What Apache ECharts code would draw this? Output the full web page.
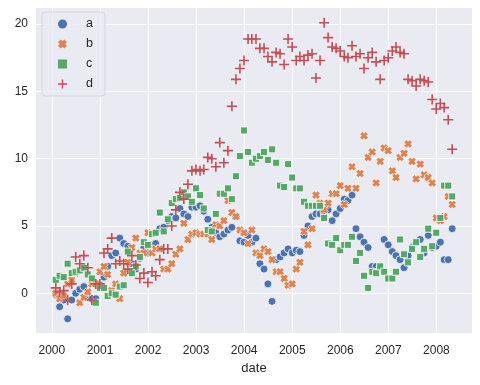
<!DOCTYPE html>
<html><head><meta charset="utf-8">
<script src="https://cdn.jsdelivr.net/npm/echarts@6/dist/echarts.min.js"></script>
<style>html,body{margin:0;padding:0;background:#fff}#c{width:480px;height:385px}</style>
</head><body><div id="c"></div>
<script>
// monthly month-end dates starting 2000-01-31, 100 periods
const startYear = 2000;
const nPeriods = 100;
const dates = Array.from({length: nPeriods}, (_, i) => new Date(startYear, i + 1, 0).getTime());

const seriesNames = ['a', 'b', 'c', 'd'];

const a = [-0.1,-1.0,-0.5,-1.9,-0.5,0.0,0.3,0.5,-0.3,-0.4,-0.4,0.6,1.2,2.0,2.8,3.0,4.1,3.7,3.5,2.2,
  1.8,2.6,3.4,3.0,3.6,3.7,4.8,4.9,5.4,5.7,5.6,6.3,5.9,5.7,6.4,6.4,6.5,6.1,5.5,4.9,
  4.5,4.2,4.4,4.7,4.9,5.7,3.9,3.8,4.3,3.8,4.1,2.2,1.8,0.7,-0.6,2.5,2.7,3.0,3.3,3.0,
  3.2,3.1,4.3,5.0,5.7,5.9,5.9,6.0,6.2,5.4,5.9,6.3,7.0,6.9,7.3,4.8,4.2,3.8,3.4,2.0,
  2.0,2.0,4.0,3.6,3.1,2.8,2.5,1.9,2.8,3.4,3.8,4.0,3.0,4.3,3.4,3.5,3.8,2.5,2.5,4.8];

const b = [0.0,-0.4,-0.2,0.7,1.0,1.5,-0.7,-0.3,0.1,0.7,0.7,1.6,2.0,1.4,0.2,0.7,-0.4,1.5,2.3,3.4,
  4.1,3.0,3.0,4.5,3.0,3.3,3.3,1.8,1.8,2.2,2.9,3.3,5.2,4.0,4.4,4.5,4.4,4.4,4.4,4.0,
  5.1,5.0,5.4,6.9,6.0,5.7,4.7,4.5,3.7,4.7,3.0,2.8,3.3,3.1,2.5,1.6,1.6,1.1,0.6,0.7,
  1.8,2.3,4.6,3.6,4.8,7.3,6.7,6.2,6.7,7.4,7.4,8.0,6.6,7.8,9.4,7.8,8.9,11.7,10.1,10.5,
  8.2,9.8,10.8,10.6,9.1,8.6,10.1,10.4,11.1,9.8,8.5,9.6,8.8,8.6,8.2,5.6,5.4,5.7,7.2,6.6];

const c = [1.0,1.3,1.2,2.2,1.5,1.6,1.7,1.9,1.4,1.1,-0.7,0.4,0.4,-0.2,0.0,-0.1,0.5,0.6,3.1,1.5,
  2.0,2.7,3.8,3.6,4.4,4.5,6.0,4.6,5.5,6.7,7.0,7.1,7.5,7.2,6.8,7.8,7.3,6.3,4.7,4.6,
  5.9,7.4,7.4,7.8,7.0,8.7,10.2,12.1,10.5,9.7,10.0,10.2,10.5,9.9,10.7,9.7,8.0,7.9,9.6,8.6,
  7.8,7.8,6.8,6.5,6.5,6.5,6.5,5.6,3.7,3.6,4.1,3.2,3.6,3.6,4.2,2.4,3.0,1.3,0.4,1.6,
  1.5,2.0,1.6,1.1,1.1,1.6,4.0,2.9,2.3,3.3,3.8,2.7,3.3,4.8,3.5,4.5,5.6,8.0,8.0,7.2];

const d = [0.4,0.1,0.2,-0.5,0.7,2.7,2.2,2.8,1.9,-0.5,0.7,0.7,3.0,3.3,4.1,2.2,2.4,2.2,1.8,2.8,
  2.1,1.1,1.5,0.8,1.6,1.3,2.5,3.3,3.3,5.0,6.2,7.5,7.0,8.1,9.1,9.2,9.1,9.2,10.1,10.0,
  9.4,11.2,9.7,10.6,13.9,15.9,16.7,17.3,18.9,18.9,18.9,18.2,18.2,17.6,17.2,17.9,17.8,17.0,18.9,18.3,
  17.3,17.6,17.3,17.7,17.8,16.0,17.3,20.1,19.0,18.3,18.2,18.0,17.6,17.5,18.4,17.6,17.8,16.7,17.5,17.9,
  17.2,15.9,17.3,17.5,18.0,18.3,17.9,17.8,15.9,15.8,15.4,15.9,15.8,15.7,14.4,13.7,14.1,13.8,12.9,10.7];

const yTicks = [0, 5, 10, 15, 20];
const xTickYears = [2000, 2001, 2002, 2003, 2004, 2005, 2006, 2007, 2008];

const values = [a, b, c, d];
const colors = ['#4C72B0', '#DD8452', '#55A868', '#C44E52'];
const xPath = 'path://M3,0 L5,2 L7,0 L10,3 L8,5 L10,7 L7,10 L5,8 L3,10 L0,7 L2,5 L0,3 Z';
const squarePath = 'path://M0,0 L10,0 L10,10 L0,10 Z';
const plusPath = 'path://M4.2,0 L5.8,0 L5.8,4.2 L10,4.2 L10,5.8 L5.8,5.8 L5.8,10 L4.2,10 L4.2,5.8 L0,5.8 L0,4.2 L4.2,4.2 Z';
const symbols = ['circle', xPath, squarePath, plusPath];
const sizes = [8, 8.5, 7, 10];
const borders = [0.8, 0.7, 0.8, 0];

const span = dates[dates.length - 1] - dates[0];
const xMin = dates[0] - 0.05 * span;
const xMax = dates[dates.length - 1] + 0.05 * span;
const xTicks = xTickYears.map(y => new Date(y, 0, 1).getTime());

const font = '"Liberation Sans", Arial, sans-serif';
const txt = '#262626';

const chart = echarts.init(document.getElementById('c'), null, {renderer: 'canvas'});
chart.setOption({
  animation: false,
  backgroundColor: '#ffffff',
  grid: {left: 36, right: 8, top: 8, bottom: 52, show: true, backgroundColor: '#EAEAF2', borderWidth: 0},
  legend: {
    left: 42, top: 12, orient: 'vertical',
    padding: [5, 12, 5, 16],
    itemWidth: 9, itemHeight: 9, itemGap: 6,
    backgroundColor: 'rgba(234,234,242,0.8)',
    borderColor: '#d4d4dc', borderWidth: 1, borderRadius: 3,
    itemStyle: {borderWidth: 0},
    textStyle: {fontFamily: font, fontSize: 12.5, color: txt, lineHeight: 14, padding: [0, 0, 0, 14]},
    data: seriesNames
  },
  xAxis: {
    type: 'value', min: xMin, max: xMax,
    name: 'date', nameLocation: 'middle', nameGap: 29,
    nameTextStyle: {fontFamily: font, fontSize: 13, color: txt},
    axisLine: {show: false}, axisTick: {show: false, customValues: xTicks},
    axisLabel: {customValues: xTicks, margin: 12, fontFamily: font, fontSize: 12, color: txt,
      formatter: v => String(new Date(v).getFullYear())},
    splitLine: {show: true, lineStyle: {color: '#ffffff', width: 1}}
  },
  yAxis: {
    type: 'value', min: -2.95, max: 21.2,
    axisLine: {show: false}, axisTick: {show: false, customValues: yTicks},
    axisLabel: {customValues: yTicks, margin: 8, fontFamily: font, fontSize: 12, color: txt},
    splitLine: {show: true, lineStyle: {color: '#ffffff', width: 1}}
  },
  series: seriesNames.map((name, k) => ({
    name: name, type: 'scatter',
    symbol: symbols[k], symbolSize: sizes[k], symbolKeepAspect: true,
    itemStyle: {color: colors[k], borderColor: '#ffffff', borderWidth: borders[k], opacity: 1},
    data: dates.map((t, i) => [t, values[k][i]])
  }))
});
</script></body></html>
